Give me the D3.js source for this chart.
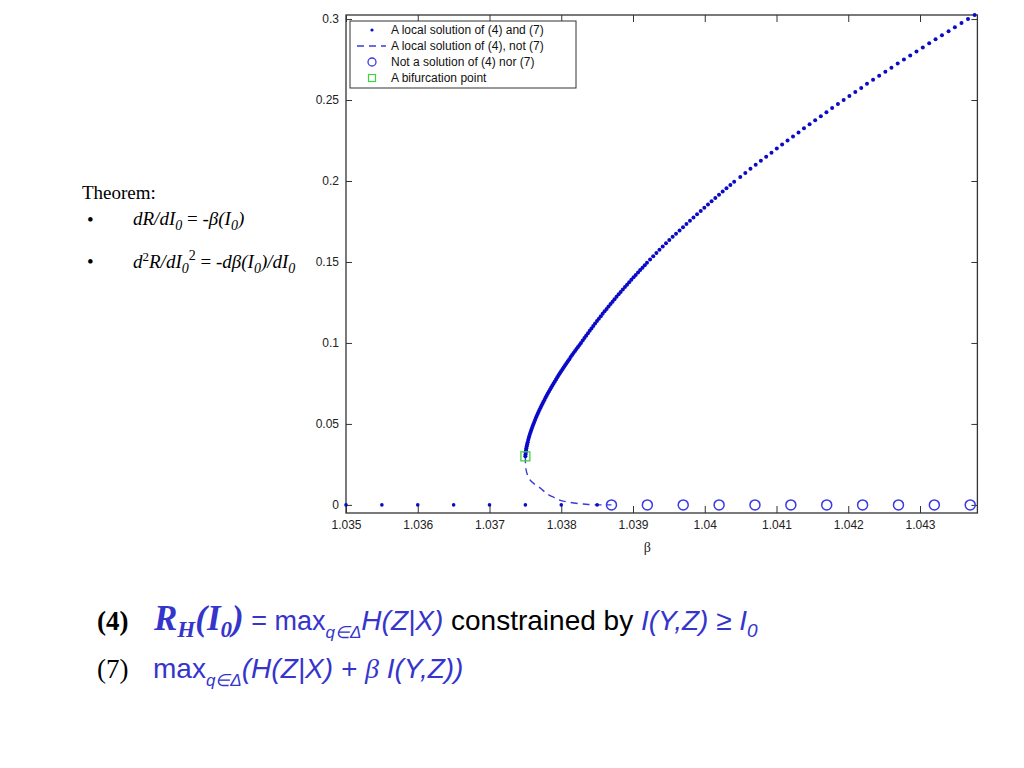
<!DOCTYPE html>
<html><head><meta charset="utf-8">
<script src="https://cdn.jsdelivr.net/npm/d3@7"></script>
<style>body{margin:0;background:#fff}svg{display:block}</style>
</head><body><svg id="c" width="1024" height="768"></svg>
<script>
// ---- data ----
// solution branch of (4) and (7): beta values and R values, dots from the bifurcation point upward
const solBeta = [
// R 0.0300 .. 0.09875
1.037500,1.037502,1.037505,1.037509,1.037513,1.037519,1.037525,1.037532,1.037539,1.037547,
1.037555,1.037563,1.037573,1.037582,1.037592,1.037602,1.037613,1.037624,1.037635,1.037647,
1.037659,1.037672,1.037684,1.037697,1.037711,1.037724,1.037738,1.037752,1.037767,1.037782,
1.037797,1.037812,1.037828,1.037844,1.037860,1.037876,1.037893,1.037910,1.037927,1.037945,
1.037962,1.037980,1.037998,1.038017,1.038035,1.038054,1.038073,1.038092,1.038112,1.038131,
1.038151,1.038171,1.038192,1.038212,1.038233,1.038254,
// R 0.1000 .. 0.1495
1.038275,1.038299,1.038323,1.038347,1.038372,1.038397,1.038421,1.038446,1.038472,1.038498,
1.038524,1.038551,1.038577,1.038604,1.038632,1.038659,1.038687,1.038715,1.038742,1.038771,
1.038800,1.038828,1.038858,1.038888,1.038917,1.038947,1.038977,1.039008,1.039038,1.039070,
1.039100,1.039132,1.039164,1.039195,
// R 0.1515 .. 0.1995
1.039238,1.039282,1.039326,1.039369,1.039414,1.039460,1.039506,1.039553,1.039600,1.039649,
1.039697,1.039745,1.039794,1.039843,1.039893,1.039944,1.039994,1.040045,1.040095,1.040147,
1.040199,1.040250,1.040303,1.040357,1.040410,
// R 0.2025 .. 0.3025
1.040495,1.040565,1.040637,1.040710,1.040782,1.040856,1.040930,1.041004,1.041078,1.041154,
1.041230,1.041307,1.041383,1.041461,1.041539,1.041618,1.041696,1.041775,1.041856,1.041936,
1.042016,1.042098,1.042181,1.042261,1.042346,1.042431,1.042517,1.042602,1.042689,1.042776,
1.042864,1.042951,1.043039,1.043128,1.043217,1.043306,1.043398,1.043486,1.043578,1.043669,
1.043761];
const solR = [
0.03000,0.03125,0.03250,0.03375,0.03500,0.03625,0.03750,0.03875,0.04000,0.04125,
0.04250,0.04375,0.04500,0.04625,0.04750,0.04875,0.05000,0.05125,0.05250,0.05375,
0.05500,0.05625,0.05750,0.05875,0.06000,0.06125,0.06250,0.06375,0.06500,0.06625,
0.06750,0.06875,0.07000,0.07125,0.07250,0.07375,0.07500,0.07625,0.07750,0.07875,
0.08000,0.08125,0.08250,0.08375,0.08500,0.08625,0.08750,0.08875,0.09000,0.09125,
0.09250,0.09375,0.09500,0.09625,0.09750,0.09875,
0.1000,0.1015,0.1030,0.1045,0.1060,0.1075,0.1090,0.1105,0.1120,0.1135,
0.1150,0.1165,0.1180,0.1195,0.1210,0.1225,0.1240,0.1255,0.1270,0.1285,
0.1300,0.1315,0.1330,0.1345,0.1360,0.1375,0.1390,0.1405,0.1420,0.1435,
0.1450,0.1465,0.1480,0.1495,
0.1515,0.1535,0.1555,0.1575,0.1595,0.1615,0.1635,0.1655,0.1675,0.1695,
0.1715,0.1735,0.1755,0.1775,0.1795,0.1815,0.1835,0.1855,0.1875,0.1895,
0.1915,0.1935,0.1955,0.1975,0.1995,
0.2025,0.2050,0.2075,0.2100,0.2125,0.2150,0.2175,0.2200,0.2225,0.2250,
0.2275,0.2300,0.2325,0.2350,0.2375,0.2400,0.2425,0.2450,0.2475,0.2500,
0.2525,0.2550,0.2575,0.2600,0.2625,0.2650,0.2675,0.2700,0.2725,0.2750,
0.2775,0.2800,0.2825,0.2850,0.2875,0.2900,0.2925,0.2950,0.2975,0.3000,
0.3025];
const dashBeta = [1.0375,1.037502,1.037564,1.037704,1.037885,1.03808,1.038303,1.038512,1.0387];
const dashR    = [0.03,0.0247,0.0154,0.0105,0.0049,0.0019,0.0006,0.0,0.0];
const zeroDotBeta = [1.035,1.0355,1.036,1.0365,1.037,1.0375,1.038,1.0385];
const zeroDotR    = [0,0,0,0,0,0,0,0];
const circleBeta = [1.0387,1.0392,1.0397,1.0402,1.0407,1.0412,1.0417,1.0422,1.0427,1.0432,1.0437];
const circleR    = [0,0,0,0,0,0,0,0,0,0,0];
const bifBeta = [1.0375];
const bifR = [0.03];
const xTicks = [1.035,1.036,1.037,1.038,1.039,1.040,1.041,1.042,1.043];
const xTickLabels = ["1.035","1.036","1.037","1.038","1.039","1.04","1.041","1.042","1.043"];
const yTicks = [0,0.05,0.1,0.15,0.2,0.25,0.3];
const yTickLabels = ["0","0.05","0.1","0.15","0.2","0.25","0.3"];
const legendLabels = ["A local solution of (4) and (7)","A local solution of (4), not (7)","Not a solution of (4) nor (7)","A bifurcation point"];
const xAxisTitle = "β";

// ---- drawing ----
const svg = d3.select("#c");
svg.append("rect").attr("width",1024).attr("height",768).attr("fill","#fff");
const L=346, R=977.4, T=15, B=513;
const x = d3.scaleLinear().domain([1.035,1.0438]).range([L,R]);
const y = d3.scaleLinear().domain([-0.005,0.3025]).range([B,T]);
const sans = "'Liberation Sans', Arial, Helvetica, sans-serif";
const serif = "'Liberation Serif', 'Times New Roman', serif";
const BLUE = "#0a0ac8";

const axStyle = g => { g.select(".domain").remove();
  g.selectAll(".tick line").attr("stroke","#333").attr("stroke-width",1);
  g.selectAll(".tick text").attr("fill","#222").style("font-family",sans).style("font-size","12px"); };

svg.append("g").attr("transform",`translate(0,${B})`)
  .call(d3.axisBottom(x).tickValues(xTicks).tickFormat((d,i)=>xTickLabels[i]).tickSize(-7).tickPadding(7)).call(axStyle);
svg.append("g").attr("transform",`translate(0,${T})`)
  .call(d3.axisTop(x).tickValues(xTicks).tickFormat("").tickSize(-7)).call(axStyle);
svg.append("g").attr("transform",`translate(${L},0)`)
  .call(d3.axisLeft(y).tickValues(yTicks).tickFormat((d,i)=>yTickLabels[i]).tickSize(-6).tickPadding(7)).call(axStyle);
svg.append("g").attr("transform",`translate(${R},0)`)
  .call(d3.axisRight(y).tickValues(yTicks).tickFormat("").tickSize(-6)).call(axStyle);
svg.append("rect").attr("x",L).attr("y",T).attr("width",R-L).attr("height",B-T)
  .attr("fill","none").attr("stroke","#333").attr("stroke-width",1.3);

svg.append("text").attr("x",x(1.0392)).attr("y",552).attr("text-anchor","middle")
  .style("font-family",serif).style("font-size","14px").attr("fill","#222").text(xAxisTitle);

// dashed branch
const dashPts = dashBeta.map((b,i)=>[x(b),y(dashR[i])]);
svg.append("path").attr("d",d3.line().curve(d3.curveMonotoneY)(dashPts))
  .attr("fill","none").attr("stroke","#3a3ad8").attr("stroke-width",1.4).attr("stroke-dasharray","7,5");

// zero dots
svg.append("g").selectAll("circle").data(zeroDotBeta).join("circle")
  .attr("cx",d=>x(d)).attr("cy",(d,i)=>y(zeroDotR[i])).attr("r",1.8).attr("fill",BLUE);
// circles
svg.append("g").selectAll("circle").data(circleBeta).join("circle")
  .attr("cx",d=>x(d)).attr("cy",(d,i)=>y(circleR[i])).attr("r",5).attr("fill","none")
  .attr("stroke","#3b3be6").attr("stroke-width",1.5);
// solution dots
svg.append("g").selectAll("circle").data(solBeta).join("circle")
  .attr("cx",d=>x(d)).attr("cy",(d,i)=>y(solR[i])).attr("r",2).attr("fill",BLUE);
// bifurcation
svg.append("g").selectAll("rect").data(bifBeta).join("rect")
  .attr("x",d=>x(d)-4.5).attr("y",(d,i)=>y(bifR[i])-4.5).attr("width",9).attr("height",9)
  .attr("fill","none").attr("stroke","#3fd43f").attr("stroke-width",1.3);

// legend
const lg = svg.append("g");
lg.append("rect").attr("x",350).attr("y",21).attr("width",226).attr("height",67)
  .attr("fill","#fff").attr("stroke","#333").attr("stroke-width",1);
const ly = [30,46,62,78];
legendLabels.forEach((t,i)=>{
  lg.append("text").attr("x",391).attr("y",ly[i]+4).style("font-family",sans).style("font-size","12px")
    .attr("fill","#111").text(t);
});
lg.append("circle").attr("cx",372).attr("cy",ly[0]).attr("r",1.6).attr("fill",BLUE);
lg.append("line").attr("x1",357).attr("x2",386).attr("y1",ly[1]).attr("y2",ly[1])
  .attr("stroke","#3a3ad8").attr("stroke-width",1.3).attr("stroke-dasharray","7,5");
lg.append("circle").attr("cx",372).attr("cy",ly[2]).attr("r",4).attr("fill","none").attr("stroke","#3b3be6").attr("stroke-width",1.3);
lg.append("rect").attr("x",368.5).attr("y",ly[3]-3.5).attr("width",7).attr("height",7).attr("fill","none").attr("stroke","#3fd43f").attr("stroke-width",1.2);

// rich text helper
function rich(x0,y0,parts,base){
  const t = svg.append("text").attr("x",x0).attr("y",y0).attr("xml:space","preserve");
  let cur=0;
  parts.forEach(p=>{
    const o = p.o||0;
    const s = t.append("tspan").attr("dy",o-cur).text(p.t);
    cur=o;
    const st = Object.assign({},base,p);
    s.style("font-family",st.f).style("font-size",st.s+"px").style("font-style",st.i?"italic":"normal")
     .style("font-weight",st.b?"bold":"normal").attr("fill",st.c);
  });
  return t;
}
const tb = {f:serif,s:19,c:"#000"};
rich(82,199,[{t:"Theorem:"}],tb);
rich(87,226,[{t:"•"}],tb);
rich(87,268,[{t:"•"}],tb);
rich(133,225,[{t:"dR/dI",i:1},{t:"0",i:1,s:14,o:5},{t:" = -",o:0},{t:"β(I",i:1},{t:"0",i:1,s:14,o:5},{t:")",i:1,o:0}],tb);
rich(133,268,[{t:"d",i:1},{t:"2",s:13,o:-7},{t:"R/dI",i:1,o:0},{t:"0",i:1,s:14,o:5},{t:"2",s:14,o:-8},{t:" = -",o:0},{t:"dβ(I",i:1},{t:"0",i:1,s:14,o:5},{t:")/dI",i:1,o:0},{t:"0",i:1,s:14,o:5}],tb);

const CB = "#3535cc";
rich(97,630,[{t:"(4)",f:serif,s:27,b:1,c:"#000"}],{});
rich(154,630,[
  {t:"R",f:serif,s:35,b:1,i:1,c:CB},{t:"H",f:serif,s:23,b:1,i:1,c:CB,o:7},{t:"(I",f:serif,s:35,b:1,i:1,c:CB,o:0},
  {t:"0",f:serif,s:23,b:1,i:1,c:CB,o:7},{t:")",f:serif,s:35,b:1,i:1,c:CB,o:0},
  {t:" = max",f:sans,s:27,c:CB},{t:"q∈Δ",f:sans,s:17,i:1,c:CB,o:8},{t:"H(Z|X)",f:sans,s:28,i:1,c:CB,o:0},
  {t:" constrained by ",f:sans,s:28,c:"#000"},{t:"I(Y,Z) ≥ I",f:sans,s:28,i:1,c:CB},{t:"0",f:sans,s:19,i:1,c:CB,o:7}],{f:sans,s:28,c:"#000"});
rich(97,678,[{t:"(7)",f:serif,s:27,c:"#000"}],{});
rich(153,678,[
  {t:"max",f:sans,s:28,c:CB},{t:"q∈Δ",f:sans,s:17,i:1,c:CB,o:8},{t:"(H(Z|X) + ",f:sans,s:28,i:1,c:CB,o:0},
  {t:"β",f:serif,s:28,i:1,c:CB},{t:" I(Y,Z))",f:sans,s:28,i:1,c:CB}],{f:sans,s:28,c:"#000"});
</script></body></html>
